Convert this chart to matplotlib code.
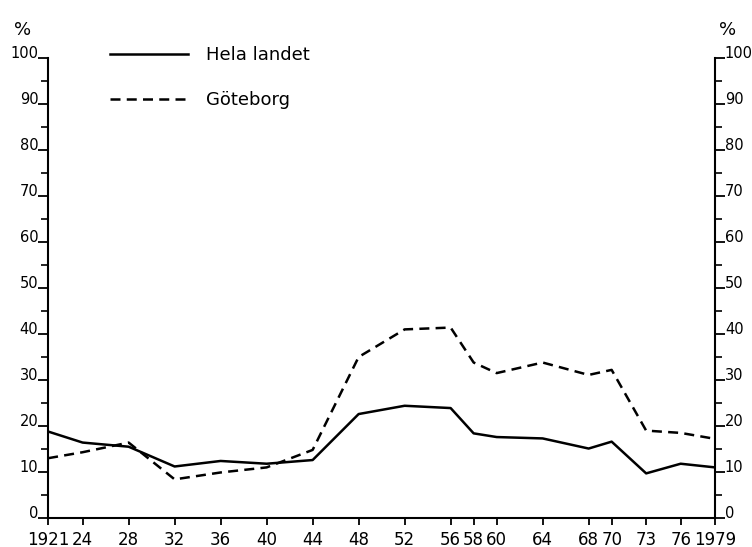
import matplotlib
matplotlib.use("Agg")
import matplotlib.pyplot as plt
import matplotlib.transforms as mtransforms
from matplotlib.ticker import MultipleLocator

# years on the x axis (position is proportional to year)
years = [1921, 1924, 1928, 1932, 1936, 1940, 1944, 1948, 1952, 1956,
         1958, 1960, 1964, 1968, 1970, 1973, 1976, 1979]
year_labels = ["1921", "24", "28", "32", "36", "40", "44", "48", "52", "56",
               "58", "60", "64", "68", "70", "73", "76", "1979"]

# percent values
hela_landet = [18.8, 16.4, 15.5, 11.2, 12.4, 11.8, 12.6, 22.6, 24.4, 23.9,
               18.4, 17.6, 17.3, 15.1, 16.6, 9.7, 11.8, 11.0]
goteborg = [13.0, 14.3, 16.4, 8.4, 9.9, 11.0, 14.8, 35.0, 41.0, 41.4,
            33.8, 31.5, 33.8, 31.1, 32.2, 19.0, 18.5, 17.2]

plt.rcParams['font.family'] = ['DejaVu Sans']

fig = plt.figure(figsize=(7.52, 5.47), dpi=100)
ax = fig.add_axes([0.064, 0.053, 0.887, 0.841])

ax.plot(years, hela_landet, color='black', lw=1.8, label='Hela landet')
ax.plot(years, goteborg, color='black', lw=1.8, linestyle=(0, (4, 2.5)), label='Göteborg')

ax.set_xlim(1921, 1979)
ax.set_ylim(0, 100)

ax.spines['top'].set_visible(False)
for s in ['left', 'right', 'bottom']:
    ax.spines[s].set_linewidth(1.5)

ax.set_xticks(years)
ax.set_xticklabels(year_labels, fontsize=12)
ax.tick_params(axis='x', direction='out', length=5, width=1.3, pad=4)

ax.yaxis.set_major_locator(MultipleLocator(10))
ax.yaxis.set_minor_locator(MultipleLocator(5))
ax.tick_params(axis='y', which='major', direction='out', length=7, width=1.3, pad=0,
               labelsize=10.5, left=True, right=True, labelleft=True, labelright=True)
ax.tick_params(axis='y', which='minor', direction='out', length=5, width=1.2,
               left=True, right=True)

# labels sit a little above their ticks, like "80_"
lift = mtransforms.ScaledTranslation(0, 4 / 72, fig.dpi_scale_trans)
for tick in ax.yaxis.get_major_ticks():
    tick.label1.set_transform(tick.label1.get_transform() + lift)
    tick.label2.set_transform(tick.label2.get_transform() + lift)

fig.text(0.03, 0.945, '%', fontsize=13, ha='center', va='center')
fig.text(0.967, 0.945, '%', fontsize=13, ha='center', va='center')

ax.legend(loc='upper left', bbox_to_anchor=(0.125, 0.945), bbox_transform=fig.transFigure,
          frameon=False, fontsize=13, handlelength=4.3, handletextpad=1.0,
          labelspacing=1.5)

fig.savefig('out.png', dpi=100)
